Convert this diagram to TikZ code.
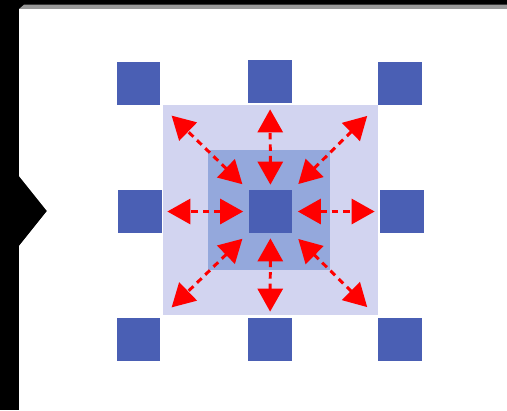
\documentclass[tikz,border=0pt]{standalone}
\usepackage{xcolor}
\usepackage{tikz}
\usetikzlibrary{arrows.meta}

\definecolor{cellblue}{RGB}{74,95,180}
\definecolor{ringlight}{RGB}{210,212,240}
\definecolor{ringmid}{RGB}{148,168,220}

\begin{document}
\begin{tikzpicture}[x=0.02cm, y=-0.02cm,
    cell/.style={rectangle, fill=cellblue, minimum width=0.88cm, minimum height=0.86cm, inner sep=0pt},
    spread/.style={{Triangle[length=0.46cm,width=0.5cm]}-{Triangle[length=0.46cm,width=0.5cm]}, red, line width=1.7pt, dash pattern=on 0.13cm off 0.1cm}]
    % Frame
    \fill[black] (0,0) rectangle (507,410);
    \fill[black!40] (24,4.7) -- (507,4.7) -- (507,9) -- (19,9) -- cycle;
    \fill[white] (19,9) -- (507,9) -- (507,410) -- (19,410) -- (19,246) -- (47,211) -- (19,176) -- cycle;

    % Neighbourhood rings
    \node[rectangle, fill=ringlight, minimum width=4.3cm, minimum height=4.2cm, inner sep=0pt] (outer) at (270.5,210) {};
    \node[rectangle, fill=ringmid, minimum width=2.44cm, minimum height=2.4cm, inner sep=0pt] (inner) at (269,210) {};

    % Cells
    \node[cell] (tl) at (138.5,83.5) {};
    \node[cell] (tm) at (270,81.5) {};
    \node[cell] (tr) at (400,83.5) {};
    \node[cell] (ml) at (140,211.5) {};
    \node[cell] (mid) at (270.5,211.5) {};
    \node[cell] (mr) at (402,211.5) {};
    \node[cell] (bl) at (138.5,339.5) {};
    \node[cell] (bm) at (270,339.5) {};
    \node[cell] (br) at (400,339.5) {};

    % Arrows
    \draw[spread, shorten <=0.1cm, shorten >=0.12cm] (mid) -- (tm);
    \draw[spread, shorten <=0.1cm, shorten >=0.12cm] (mid) -- (bm);
    \draw[spread, shorten <=0.1cm, shorten >=0.1cm] (mid) -- (ml);
    \draw[spread, shorten <=0.1cm, shorten >=0.1cm] (mid) -- (mr);
    \draw[spread, shorten <=0.16cm, shorten >=0.3cm] (mid) -- (tl);
    \draw[spread, shorten <=0.16cm, shorten >=0.3cm] (mid) -- (tr);
    \draw[spread, shorten <=0.16cm, shorten >=0.3cm] (mid) -- (bl);
    \draw[spread, shorten <=0.16cm, shorten >=0.3cm] (mid) -- (br);
\end{tikzpicture}
\end{document}
